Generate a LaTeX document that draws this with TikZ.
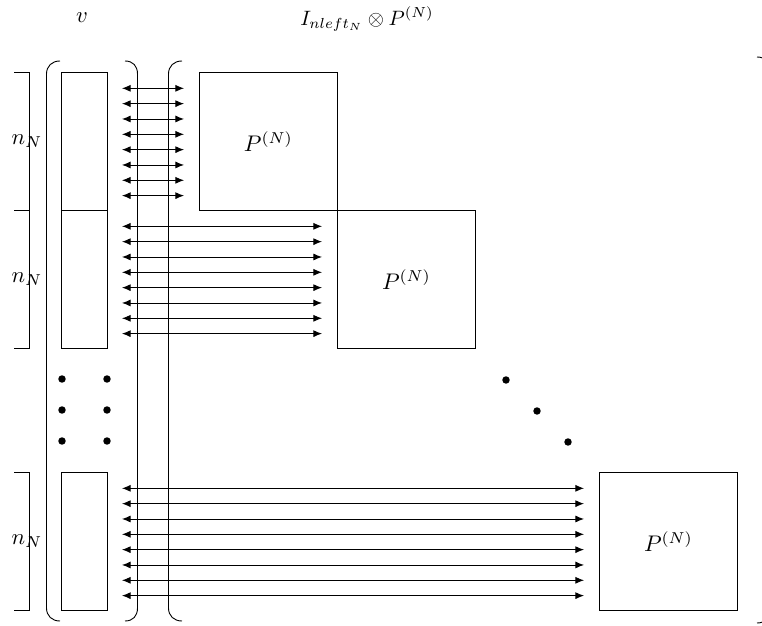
\documentclass[tikz,border=0pt]{standalone}
\usetikzlibrary{arrows.meta}
\begin{document}
\def\u{0.4425pt}
\begin{tikzpicture}[x=\u,y=-\u, line width=0.4pt,
  box/.style={draw, inner sep=0pt, anchor=north west},
  vbox/.style={box, minimum width=46*\u, minimum height=138*\u},
  pbox/.style={box, minimum width=138*\u, minimum height=138*\u},
  dbl/.style={{Latex[length=3.8pt,width=3.1pt]}-{Latex[length=3.8pt,width=3.1pt]}},
  dotn/.style={circle, fill, inner sep=0pt, minimum size=3.3pt},
  lab/.style={inner sep=0pt}]
\useasboundingbox (0,0) rectangle (762,626);
\clip (0,0) rectangle (762,626);
% top labels
\node[lab] (vlab) at (82,18) {$v$};
\node[lab, scale=0.92] (Ilab) at (367,19) {$I_{nleft_N}\otimes P^{(N)}$};
% vector blocks
\node[vbox] (v1) at (60.5,72) {};
\node[vbox] (v2) at (60.5,210) {};
\node[vbox] (v3) at (60.5,472) {};
% matrix blocks
\node[pbox] (p1) at (199,72) {$P^{(N)}$};
\node[pbox] (p2) at (337,210) {$P^{(N)}$};
\node[pbox] (p3) at (599,472) {$P^{(N)}$};
% size brackets
\draw (14,72) -- (29.5,72) -- (29.5,210) -- (14,210);
\draw (29.5,210) -- (29.5,348) -- (14,348);
\draw (14,472) -- (29.5,472) -- (29.5,610) -- (14,610);
\node[lab] (n1) at (27,141) {$n_N$};
\node[lab] (n2) at (27,279) {$n_N$};
\node[lab] (n3) at (27,541) {$n_N$};
% parentheses of v
\draw (60,61) .. controls (52,61) and (46.5,66) .. (46.5,74) -- (46.5,608) .. controls (46.5,616) and (52,621) .. (60,621);
\draw (125,61) .. controls (133,61) and (137.5,66) .. (137.5,74) -- (137.5,608) .. controls (137.5,616) and (133,621) .. (125,621);
% parentheses of matrix
\draw (182,61) .. controls (174,61) and (168.5,66) .. (168.5,74) -- (168.5,608) .. controls (168.5,616) and (174,621) .. (182,621);
\draw (757,57) .. controls (765,57) and (770,62) .. (770,70) -- (770,610) .. controls (770,618) and (765,623) .. (757,623);
% vertical dots
\foreach \y [count=\i] in {379,410,441} {
  \node[dotn] (dl\i) at (62,\y) {};
  \node[dotn] (dr\i) at (107,\y) {};
}
% diagonal dots
\node[dotn] (dd1) at (506,380) {};
\node[dotn] (dd2) at (537,411) {};
\node[dotn] (dd3) at (568,442) {};
% arrows
\foreach \b/\T/\R in {1/72/184, 2/210/322, 3/472/584} {
  \foreach \k in {1,...,8} {
    \pgfmathsetmacro{\yy}{\T+15.33*\k+1}
    \coordinate (a\b l\k) at (122,\yy);
    \coordinate (a\b r\k) at (\R,\yy);
    \draw[dbl] (a\b l\k) -- (a\b r\k);
  }
}
\end{tikzpicture}
\end{document}
